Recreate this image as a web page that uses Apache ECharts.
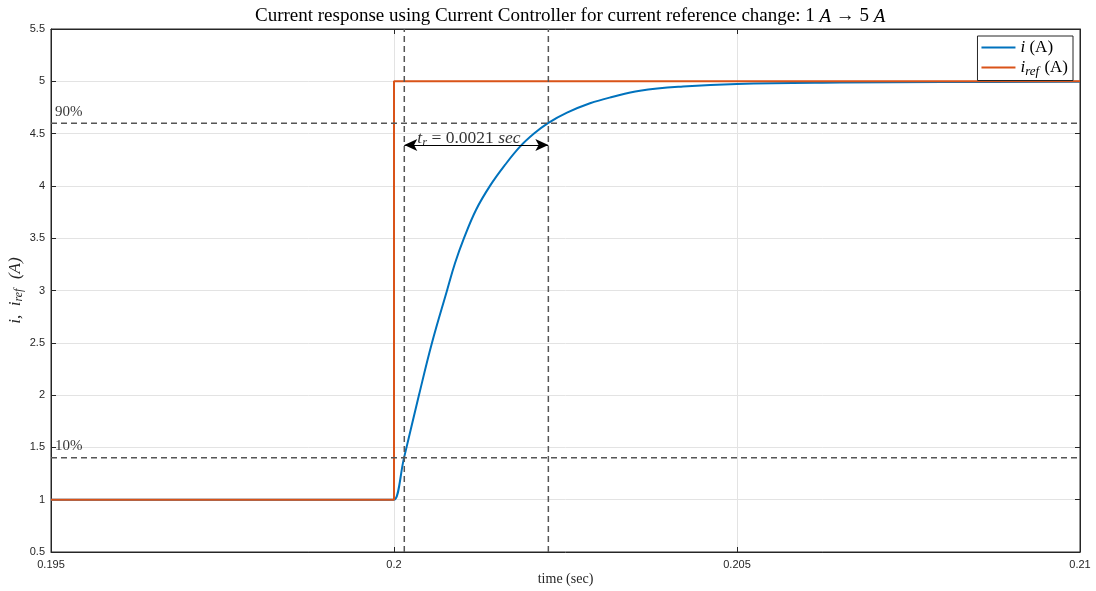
<!DOCTYPE html>
<html>
<head>
<meta charset="utf-8">
<script src="https://cdn.jsdelivr.net/npm/echarts@6/dist/echarts.min.js"></script>
<style>
  html, body { margin: 0; padding: 0; background: #ffffff; }
  #chart { width: 1096px; height: 591px; }
</style>
</head>
<body>
<div id="chart"></div>
<script>
// Measured current i (A) after the reference step
const time = [0.195, 0.1975, 0.19995, 0.2, 0.200146, 0.200364, 0.200554, 0.200773, 0.200889,
              0.20102, 0.201195, 0.201399, 0.201618, 0.201837, 0.202041, 0.202245, 0.202522,
              0.202857, 0.203178, 0.203586, 0.204213, 0.205, 0.206501, 0.208003, 0.21];
const current = [1, 1, 1, 1, 1.4, 2.0, 2.5, 3.0, 3.26,
                 3.5, 3.77, 4.0, 4.2, 4.375, 4.5, 4.6, 4.7,
                 4.79, 4.85, 4.91, 4.95, 4.975, 4.988, 4.993, 4.995];

// Current reference i_ref (A): step from 1 A to 5 A
const refTime = [0.195, 0.2, 0.2, 0.21];
const refCurrent = [1, 1, 5, 5];

// Rise-time markers (10 % and 90 % of the step)
const lowLevel = 1.4;
const highLevel = 4.6;
const riseStart = 0.20015;
const riseEnd = 0.20225;
const riseLabel = '0.0021';
const arrowLevel = 4.39;

// Axis ranges and tick spacing
const xMin = 0.195, xMax = 0.21, xStep = 0.005;
const yMin = 0.5, yMax = 5.5, yStep = 0.5;

const serif = '"Liberation Serif", "DejaVu Serif", serif';
const sans = '"Liberation Sans", Arial, sans-serif';
const ink = '#262626';
const dashGray = '#555555';

const pairs = (xs, ys) => xs.map((x, k) => [x, ys[k]]);

const chart = echarts.init(document.getElementById('chart'));

const dashed = (name, data) => ({
  name: name,
  type: 'line',
  data: data,
  symbol: 'none',
  silent: true,
  z: 4,
  lineStyle: { color: dashGray, width: 1.5, type: [6, 4] }
});

const textPoint = (name, point, rich, text, opts) => ({
  name: name,
  type: 'scatter',
  data: [point],
  symbolSize: 0,
  silent: true,
  z: 6,
  label: Object.assign({
    show: true,
    formatter: text,
    fontFamily: serif,
    color: '#000',
    rich: rich
  }, opts)
});

chart.setOption({
  animation: false,
  backgroundColor: '#ffffff',
  title: {
    text: 'Current response using Current Controller for current reference change: 1 {it|A} → 5 {it|A}',
    left: 250,
    top: 2,
    textStyle: {
      fontFamily: serif,
      fontWeight: 'normal',
      fontSize: 19,
      color: '#000',
      rich: { it: { fontFamily: serif, fontStyle: 'italic', fontSize: 19, color: '#000' } }
    }
  },
  grid: {
    left: 51, right: 16, top: 29, bottom: 39,
    outerBoundsMode: 'none',
    containLabel: false,
    show: true, borderColor: ink, borderWidth: 1, backgroundColor: 'transparent'
  },
  legend: {
    data: ['i (A)', 'iref (A)'],
    orient: 'vertical',
    right: 23,
    top: 36,
    itemWidth: 34,
    itemHeight: 2,
    itemGap: 3,
    icon: 'rect',
    padding: [3, 5, 2, 4],
    borderColor: ink,
    borderWidth: 1,
    backgroundColor: '#ffffff',
    formatter: function (name) {
      return name === 'i (A)' ? '{it|i} (A)' : '{it|i}{sub|ref} (A)';
    },
    textStyle: {
      fontFamily: serif,
      fontSize: 17,
      color: '#000',
      rich: {
        it: { fontFamily: serif, fontStyle: 'italic', fontSize: 17, color: '#000' },
        sub: { fontFamily: serif, fontStyle: 'italic', fontSize: 13, color: '#000', padding: [9, 1, 0, 0] }
      }
    }
  },
  xAxis: [{
    type: 'value',
    min: xMin, max: xMax, interval: xStep,
    name: 'time (sec)',
    nameLocation: 'middle',
    nameGap: 20,
    nameMoveOverlap: false,
    nameTextStyle: { fontFamily: serif, fontSize: 14, color: ink },
    axisLine: { lineStyle: { color: ink, width: 1 } },
    axisTick: { inside: true, length: 5, lineStyle: { color: ink } },
    axisLabel: {
      fontFamily: sans, fontSize: 11, color: ink, margin: 7,
      formatter: v => String(+v.toFixed(3))
    },
    splitLine: { show: true, lineStyle: { color: '#e3e3e3', width: 1 } }
  }, {
    type: 'value', position: 'top',
    min: xMin, max: xMax, interval: xStep,
    axisLine: { show: true, lineStyle: { color: ink } },
    axisTick: { inside: true, length: 5, lineStyle: { color: ink } },
    axisLabel: { show: false },
    splitLine: { show: false }
  }],
  yAxis: [{
    type: 'value',
    min: yMin, max: yMax, interval: yStep,
    name: '{it|i,  i}{sub|ref}{it|  (A)}',
    nameLocation: 'middle',
    nameGap: 26,
    nameMoveOverlap: false,
    nameRotate: 90,
    nameTextStyle: {
      fontFamily: serif, fontSize: 17, color: ink,
      rich: {
        it: { fontFamily: serif, fontStyle: 'italic', fontSize: 17, color: ink },
        sub: { fontFamily: serif, fontStyle: 'italic', fontSize: 12, color: ink, padding: [7, 1, 0, 0] }
      }
    },
    axisLine: { show: true, lineStyle: { color: ink, width: 1 } },
    axisTick: { inside: true, length: 5, lineStyle: { color: ink } },
    axisLabel: { fontFamily: sans, fontSize: 11, color: ink, margin: 6 },
    splitLine: { show: true, lineStyle: { color: '#e3e3e3', width: 1 } }
  }, {
    type: 'value', position: 'right',
    min: yMin, max: yMax, interval: yStep,
    axisLine: { show: true, lineStyle: { color: ink } },
    axisTick: { inside: true, length: 5, lineStyle: { color: ink } },
    axisLabel: { show: false },
    splitLine: { show: false }
  }],
  series: [
    {
      name: 'i (A)',
      type: 'line',
      data: pairs(time, current),
      symbol: 'none',
      smooth: 0.4,
      z: 2,
      color: '#0072BD',
      lineStyle: { color: '#0072BD', width: 2 }
    },
    {
      name: 'iref (A)',
      type: 'line',
      data: pairs(refTime, refCurrent),
      symbol: 'none',
      z: 3,
      color: '#D95319',
      lineStyle: { color: '#D95319', width: 2 }
    },
    dashed('level90', [[xMin, highLevel], [xMax, highLevel]]),
    dashed('level10', [[xMin, lowLevel], [xMax, lowLevel]]),
    dashed('riseStart', [[riseStart, yMin], [riseStart, yMax]]),
    dashed('riseEnd', [[riseEnd, yMin], [riseEnd, yMax]]),
    {
      name: 'riseArrow',
      type: 'line',
      data: [],
      silent: true,
      markLine: {
        silent: true,
        symbol: ['arrow', 'arrow'],
        symbolSize: [9, 13],
        label: { show: false },
        lineStyle: { color: '#000', width: 1, type: 'solid' },
        data: [[{ coord: [riseStart, arrowLevel] }, { coord: [riseEnd, arrowLevel] }]]
      }
    },
    textPoint('label90', [xMin, highLevel], {}, '90%',
      { position: 'insideTopLeft', fontSize: 15, align: 'left', verticalAlign: 'bottom', offset: [-1, -9] }),
    textPoint('label10', [xMin, lowLevel], {}, '10%',
      { position: 'insideTopLeft', fontSize: 15, align: 'left', verticalAlign: 'bottom', offset: [-1, -9] }),
    textPoint('riseText', [riseStart, arrowLevel], {
        it: { fontFamily: serif, fontStyle: 'italic', fontSize: 17.5, color: '#000' },
        sub: { fontFamily: serif, fontStyle: 'italic', fontSize: 12.5, color: '#000', padding: [8, 0, 0, 0] },
        rm: { fontFamily: serif, fontSize: 17.5, color: '#000' }
      },
      '{it|t}{sub|r}{rm| = ' + riseLabel + ' }{it|sec}',
      { position: 'insideTopLeft', align: 'left', verticalAlign: 'bottom', offset: [8, -1] })
  ]
});
</script>
</body>
</html>
